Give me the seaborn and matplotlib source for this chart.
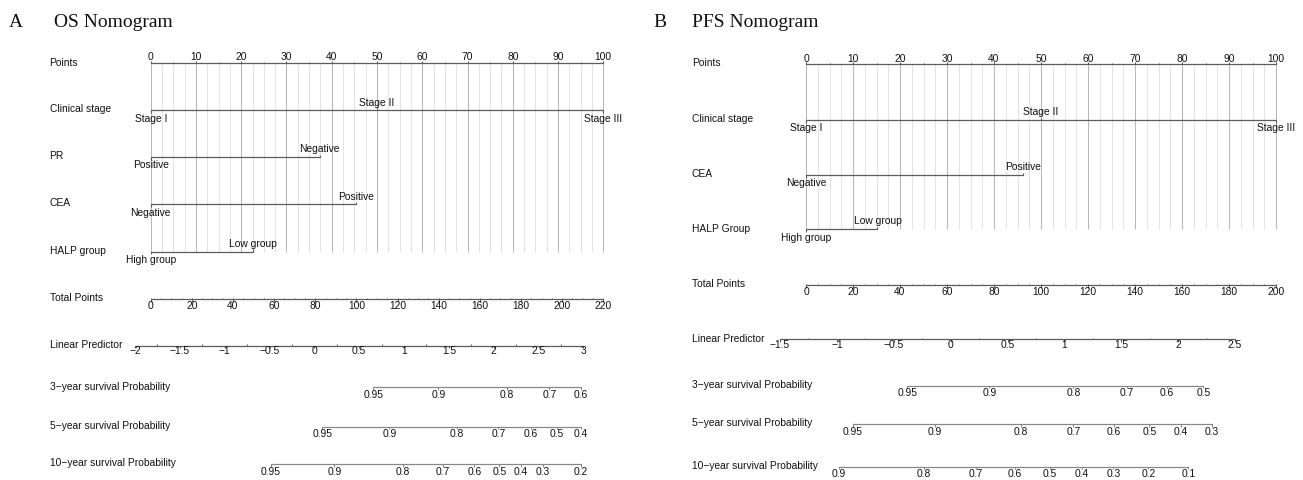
import numpy as np
import pandas as pd
import matplotlib
matplotlib.use("Agg")
import matplotlib.pyplot as plt
import seaborn as sns

# ======================= DATA =======================
# ---- Panel A : OS nomogram ----
a_letter = "A"
a_title = "OS Nomogram"
a_point_ticks = list(range(0, 101, 10))
a_vars = ["Clinical stage", "PR", "CEA", "HALP group"]
a_levels = [["Stage I", "Stage II", "Stage III"],
            ["Positive", "Negative"],
            ["Negative", "Positive"],
            ["High group", "Low group"]]
a_level_points = [[0, 50, 100], [0, 37.3], [0, 45.4], [0, 22.5]]
a_total_max = 220
a_total_ticks = list(range(0, 221, 20))
a_lp_ticks = [-2, -1.5, -1, -0.5, 0, 0.5, 1, 1.5, 2, 2.5, 3]
a_lp_total_ends = [-7.6, 210.3]          # total points at first / last LP tick
a_surv_names = ["3\u2212year survival Probability",
                "5\u2212year survival Probability",
                "10\u2212year survival Probability"]
a_surv_probs = [[0.95, 0.9, 0.8, 0.7, 0.6],
                [0.95, 0.9, 0.8, 0.7, 0.6, 0.5, 0.4],
                [0.95, 0.9, 0.8, 0.7, 0.6, 0.5, 0.4, 0.3, 0.2]]
a_surv_lp = [[0.658, 1.383, 2.146, 2.621, 2.974],
             [0.089, 0.836, 1.588, 2.052, 2.413, 2.703, 2.974],
             [-0.483, 0.223, 0.986, 1.432, 1.784, 2.063, 2.305, 2.547, 2.974]]

# ---- Panel B : PFS nomogram ----
b_letter = "B"
b_title = "PFS Nomogram"
b_point_ticks = list(range(0, 101, 10))
b_vars = ["Clinical stage", "CEA", "HALP Group"]
b_levels = [["Stage I", "Stage II", "Stage III"],
            ["Negative", "Positive"],
            ["High group", "Low group"]]
b_level_points = [[0, 50, 100], [0, 46.1], [0, 15.2]]
b_total_max = 200
b_total_ticks = list(range(0, 201, 20))
b_lp_ticks = [-1.5, -1, -0.5, 0, 0.5, 1, 1.5, 2, 2.5]
b_lp_total_ends = [-11.1, 182.6]
b_surv_names = ["3\u2212year survival Probability",
                "5\u2212year survival Probability",
                "10\u2212year survival Probability"]
b_surv_probs = [[0.95, 0.9, 0.8, 0.7, 0.6, 0.5],
                [0.95, 0.9, 0.8, 0.7, 0.6, 0.5, 0.4, 0.3],
                [0.9, 0.8, 0.7, 0.6, 0.5, 0.4, 0.3, 0.2, 0.1]]
b_surv_lp = [[-0.381, 0.340, 1.078, 1.548, 1.900, 2.221],
             [-0.861, -0.137, 0.616, 1.079, 1.434, 1.747, 2.025, 2.295],
             [-0.979, -0.234, 0.220, 0.566, 0.874, 1.152, 1.430, 1.738, 2.090]]

# ======================= LAYOUT =======================
W, H = 1303, 480
layout_a = dict(x0=150.7, x1=603.3, label_x=49.5, letter_x=9, title_x=54,
                rows=[63.3, 110.3, 157, 204.3, 251.7, 299, 345.7, 387.3, 426.7, 464.3])
layout_b = dict(x0=806, x1=1276, label_x=692, letter_x=653, title_x=692,
                rows=[64.3, 120, 175, 229.3, 285, 339.3, 385.7, 424.3, 466.7])

sns.set_theme(style="white")
plt.rcParams["font.family"] = ["Liberation Sans", "DejaVu Sans"]

FS = 7.4
TXT = "#111111"
LINE = "#5c5c5c"
PLINE = "#888888"
GRID_MAJ = "#b9b9b9"
GRID_MIN = "#e4e4e4"

fig = plt.figure(figsize=(W / 100, H / 100), dpi=100)
fig.patch.set_facecolor("white")


def draw_panel(lay, letter, title, point_ticks, vars_, levels, level_points,
               total_max, total_ticks, lp_ticks, lp_total_ends,
               surv_names, surv_probs, surv_lp):
    ax = fig.add_axes([lay["x0"] / W, 0, (lay["x1"] - lay["x0"]) / W, 1])
    ppx = (lay["x1"] - lay["x0"]) / 100.0       # pixels per point
    rows = lay["rows"]
    n = len(vars_)
    y_pts = rows[0]
    y_vars = rows[1:1 + n]
    y_tot = rows[1 + n]
    y_lp = rows[2 + n]
    y_surv = rows[3 + n:]

    def tot2x(t):
        return np.asarray(t, dtype=float) / total_max * 100.0

    lp0, lp1 = lp_ticks[0], lp_ticks[-1]

    def lp2x(v):
        v = np.asarray(v, dtype=float)
        t = lp_total_ends[0] + (v - lp0) / (lp1 - lp0) * (lp_total_ends[1] - lp_total_ends[0])
        return tot2x(t)

    def dx(pix):
        return pix / ppx

    # ---------- vertical grid ----------
    minor = [m for m in np.arange(0, 100.01, 2.5) if abs(m / 10 - round(m / 10)) > 1e-6]
    ax.vlines(minor, y_pts, y_vars[-1], color=GRID_MIN, lw=0.8, zorder=0)
    ax.vlines(point_ticks, y_pts, y_vars[-1], color=GRID_MAJ, lw=0.8, zorder=0.5)

    # ---------- horizontal segments (seaborn) ----------
    segs = []
    segs += [("points", 0, y_pts), ("points", 100, y_pts)]
    for i, pts in enumerate(level_points):
        segs += [(f"v{i}", min(pts), y_vars[i]), (f"v{i}", max(pts), y_vars[i])]
    segs += [("total", tot2x(total_ticks[0]), y_tot), ("total", tot2x(total_ticks[-1]), y_tot)]
    segs += [("lp", float(lp2x(lp0)), y_lp), ("lp", float(lp2x(lp1)), y_lp)]
    seg_df = pd.DataFrame(segs, columns=["seg", "x", "y"])
    sns.lineplot(data=seg_df, x="x", y="y", units="seg", estimator=None, sort=False,
                 color=LINE, linewidth=0.9, ax=ax)

    psegs = []
    for i, lps in enumerate(surv_lp):
        xs = lp2x(lps)
        psegs += [(f"s{i}", float(xs.min()), y_surv[i]), (f"s{i}", float(xs.max()), y_surv[i])]
    pseg_df = pd.DataFrame(psegs, columns=["seg", "x", "y"])
    sns.lineplot(data=pseg_df, x="x", y="y", units="seg", estimator=None, sort=False,
                 color=PLINE, linewidth=0.9, ax=ax)

    # ---------- Points axis ----------
    ax.vlines(point_ticks, y_pts - 2.6, y_pts, color=LINE, lw=0.8)
    ax.vlines([t + 5 for t in point_ticks[:-1]], y_pts - 1.5, y_pts, color=LINE, lw=0.8)
    for t in point_ticks:
        ax.text(t, y_pts - 2.8, f"{t}", ha="center", va="baseline", fontsize=FS, color=TXT)

    # ---------- variables ----------
    for i, (labs, pts) in enumerate(zip(levels, level_points)):
        y = y_vars[i]
        for j, (lab, p) in enumerate(zip(labs, pts)):
            if j % 2 == 0:   # below
                ax.vlines(p, y, y + 2.5, color=LINE, lw=0.8)
                ax.text(p, y + 11.4, lab, ha="center", va="baseline", fontsize=FS,
                        color=TXT, clip_on=False)
            else:            # above
                ax.vlines(p, y - 2.5, y, color=LINE, lw=0.8)
                ax.text(p, y - 4.8, lab, ha="center", va="baseline", fontsize=FS,
                        color=TXT, clip_on=False)

    # ---------- Total points ----------
    tx = tot2x(total_ticks)
    ax.vlines(tx, y_tot, y_tot + 2.5, color=LINE, lw=0.8)
    mt = tot2x(np.arange(total_ticks[0], total_ticks[-1] + 0.1, 5))
    ax.vlines(mt, y_tot - 1.5, y_tot, color=LINE, lw=0.7)
    for t, x in zip(total_ticks, tx):
        ax.text(x, y_tot + 10, f"{t}", ha="center", va="baseline", fontsize=FS, color=TXT)

    # ---------- Linear predictor ----------
    lx = lp2x(lp_ticks)
    ax.vlines(lx, y_lp, y_lp + 2.5, color=LINE, lw=0.8)
    mids = lp2x(np.array(lp_ticks[:-1]) + 0.25)
    ax.vlines(mids, y_lp - 1.5, y_lp, color=LINE, lw=0.7)
    for v, x in zip(lp_ticks, lx):
        s = f"{v:g}".replace("-", "\u2212")
        ax.text(x, y_lp + 8.8, s, ha="center", va="baseline", fontsize=FS, color=TXT,
                clip_on=False)

    # ---------- survival probabilities ----------
    for i, (probs, lps) in enumerate(zip(surv_probs, surv_lp)):
        y = y_surv[i]
        xs = lp2x(lps)
        ax.vlines(xs, y, y + 2.5, color=PLINE, lw=0.8)
        for p, x in zip(probs, xs):
            ax.text(x, y + 10.3, f"{p:g}", ha="center", va="baseline", fontsize=FS,
                    color=TXT, clip_on=False)

    # ---------- left labels ----------
    left_names = ["Points"] + vars_ + ["Total Points", "Linear Predictor"] + surv_names
    lx0 = dx(lay["label_x"] - lay["x0"])
    for name, y in zip(left_names, rows):
        ax.text(lx0, y + 2.2, name, ha="left", va="baseline", fontsize=FS,
                color=TXT, clip_on=False)

    # ---------- title ----------
    ax.text(dx(lay["letter_x"] - lay["x0"]), 26.7, letter, ha="left", va="baseline",
            fontsize=14, family="Liberation Serif", color=TXT, clip_on=False)
    ax.text(dx(lay["title_x"] - lay["x0"]), 26.7, title, ha="left", va="baseline",
            fontsize=14, family="Liberation Serif", color=TXT, clip_on=False)

    ax.set_xlim(0, 100)
    ax.set_ylim(H, 0)
    ax.axis("off")
    for art in list(ax.lines) + list(ax.collections):
        art.set_clip_on(False)


draw_panel(layout_a, a_letter, a_title, a_point_ticks, a_vars, a_levels, a_level_points,
           a_total_max, a_total_ticks, a_lp_ticks, a_lp_total_ends,
           a_surv_names, a_surv_probs, a_surv_lp)
draw_panel(layout_b, b_letter, b_title, b_point_ticks, b_vars, b_levels, b_level_points,
           b_total_max, b_total_ticks, b_lp_ticks, b_lp_total_ends,
           b_surv_names, b_surv_probs, b_surv_lp)

fig.savefig("out.png", dpi=100, facecolor="white")
